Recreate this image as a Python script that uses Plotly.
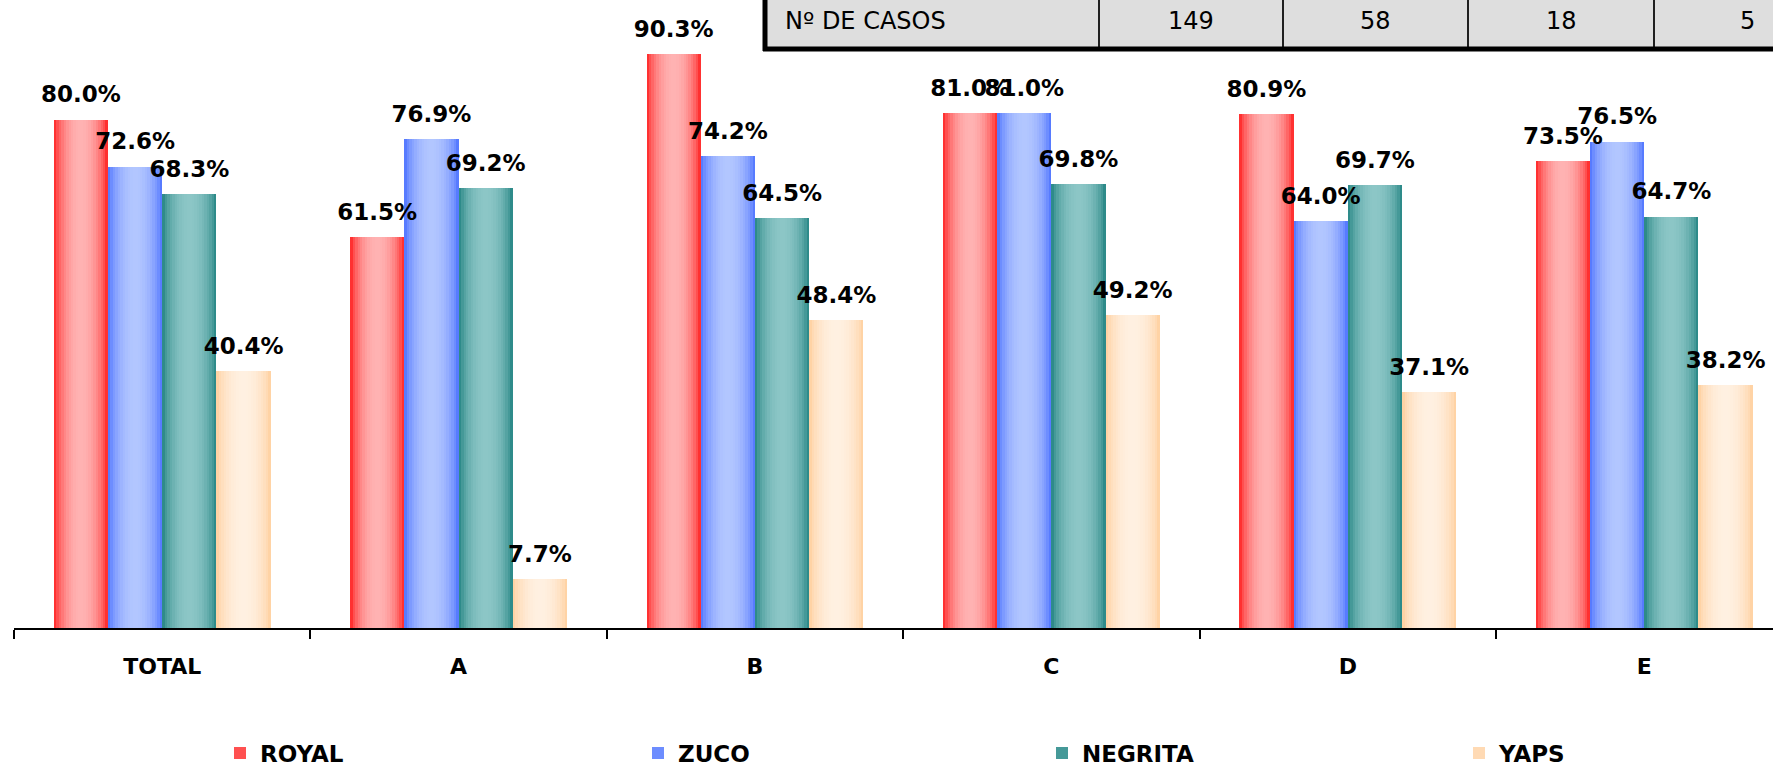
import plotly.graph_objects as go
import math

# ---------------- data ----------------
categories = ["TOTAL", "A", "B", "C", "D", "E"]
series_names = ["ROYAL", "ZUCO", "NEGRITA", "YAPS"]
royal = [80.0, 61.5, 90.3, 81.0, 80.9, 73.5]
zuco = [72.6, 76.9, 74.2, 81.0, 64.0, 76.5]
negrita = [68.3, 69.2, 64.5, 69.8, 69.7, 64.7]
yaps = [40.4, 7.7, 48.4, 49.2, 37.1, 38.2]
table_header = "Nº DE CASOS"
table_counts = [149, 58, 18, 5]

series_values = [royal, zuco, negrita, yaps]

# ---------------- style ----------------
W, H = 1773, 768
ML, MB = 14, 140
PW, PH = W - ML, H - MB
CAT_PX = 296.4
X_RANGE = [-0.5, -0.5 + PW / CAT_PX]
PX_PER_PCT = 6.355
Y_RANGE = [0, PH / PX_PER_PCT]
BW = 0.183  # bar width in category units

edge_cols = [(255, 16, 16), (64, 104, 255), (22, 124, 122), (255, 204, 150)]
mid_cols = [(255, 178, 178), (178, 198, 255), (140, 198, 198), (255, 240, 225)]
N_STRIPES = 22
legend_left_px = [220, 638, 1042, 1459]

FONT = "DejaVu Sans"


def grad_color(i, t):
    f = math.sin(math.pi * t) ** 0.6
    e, m = edge_cols[i], mid_cols[i]
    c = [round(e[k] + (m[k] - e[k]) * f) for k in range(3)]
    return f"rgb({c[0]},{c[1]},{c[2]})"


def px2x(px):
    return (px - ML) / PW


def py2y(py):
    return 1 - py / PH


x_idx = list(range(len(categories)))
fig = go.Figure()
legend_ids = ["legend", "legend2", "legend3", "legend4"]

for i, (name, vals) in enumerate(zip(series_names, series_values)):
    left = (i - 2) * BW
    right = left + BW
    s = BW / N_STRIPES
    for j in range(N_STRIPES):
        off = left + j * s
        wdt = min(s * 1.7, right - off)
        t = (j + 0.5) / N_STRIPES
        fig.add_trace(go.Bar(
            x=x_idx, y=vals, offset=off, width=wdt,
            marker=dict(color=grad_color(i, t), line=dict(width=0)),
            name=name, legendgroup=name, legend=legend_ids[i],
            showlegend=(j == 1),
            hoverinfo="skip",
        ))

for i, (name, vals) in enumerate(zip(series_names, series_values)):
    center = (i - 1.5) * BW
    fig.add_trace(go.Scatter(
        x=[c + center for c in x_idx], y=vals,
        mode="markers+text",
        marker=dict(size=17, opacity=0),
        text=[f"{v:.1f}%" for v in vals],
        textposition="top center",
        textfont=dict(family=FONT, size=23, color="black", weight="bold"),
        cliponaxis=False, showlegend=False, hoverinfo="skip",
    ))

# ---------------- table (top) ----------------
tbl_left = 765
tbl_bottom = 48
seps = [1099, 1283, 1468, 1654, 1840]
shapes = [
    dict(type="rect", xref="paper", yref="paper", x0=px2x(tbl_left), x1=px2x(1900),
         y0=py2y(tbl_bottom), y1=py2y(-30), fillcolor="#dedede", line=dict(width=0), layer="above"),
]
for sx in seps:
    shapes.append(dict(type="line", xref="paper", yref="paper", x0=px2x(sx), x1=px2x(sx),
                       y0=py2y(tbl_bottom), y1=py2y(-30), line=dict(color="#202020", width=2), layer="above"))
shapes.append(dict(type="line", xref="paper", yref="paper", x0=px2x(tbl_left - 2), x1=px2x(1900),
                   y0=py2y(tbl_bottom + 1), y1=py2y(tbl_bottom + 1), line=dict(color="black", width=5), layer="above"))
shapes.append(dict(type="line", xref="paper", yref="paper", x0=px2x(tbl_left), x1=px2x(tbl_left),
                   y0=py2y(tbl_bottom + 3), y1=py2y(-30), line=dict(color="black", width=5), layer="above"))

annotations = [dict(text=table_header, xref="paper", yref="paper", x=px2x(783), y=py2y(21),
                    xanchor="left", yanchor="middle", showarrow=False,
                    font=dict(family=FONT, size=24, color="black"))]
for k, cnt in enumerate(table_counts):
    cx = (seps[k] + seps[k + 1]) / 2
    annotations.append(dict(text=str(cnt), xref="paper", yref="paper", x=px2x(cx), y=py2y(21),
                            xanchor="center", yanchor="middle", showarrow=False,
                            font=dict(family=FONT, size=24, color="black")))

legend_font = dict(family=FONT, size=23, color="black", weight="bold")
legend_layout = {}
for k, lid in enumerate(legend_ids):
    legend_layout[lid] = dict(
        orientation="h", x=px2x(legend_left_px[k]), xanchor="left",
        y=py2y(753), yanchor="middle",
        font=legend_font, bgcolor="rgba(0,0,0,0)",
        itemclick=False, itemdoubleclick=False,
    )

fig.update_layout(
    width=W, height=H,
    margin=dict(l=ML, r=0, t=0, b=MB, autoexpand=False),
    paper_bgcolor="white", plot_bgcolor="white",
    barmode="overlay",
    bargap=0,
    shapes=shapes,
    annotations=annotations,
    xaxis=dict(
        range=X_RANGE, tickmode="array", tickvals=x_idx, ticktext=categories,
        ticks="", showgrid=False, zeroline=False,
        showline=True, linecolor="black", linewidth=2,
        tickfont=dict(family=FONT, size=22, color="black", weight="bold"),
        ticklabelstandoff=18,
        minor=dict(tick0=0.5, dtick=1, ticks="outside", ticklen=9, tickwidth=2,
                   tickcolor="black", showgrid=False),
        fixedrange=True,
    ),
    yaxis=dict(range=Y_RANGE, visible=False, fixedrange=True),
    showlegend=True,
    **legend_layout,
)

fig.write_html(
    "out.html",
    config={"displayModeBar": False, "staticPlot": True},
    post_script="document.body.style.margin='0';document.body.style.overflow='hidden';",
)
